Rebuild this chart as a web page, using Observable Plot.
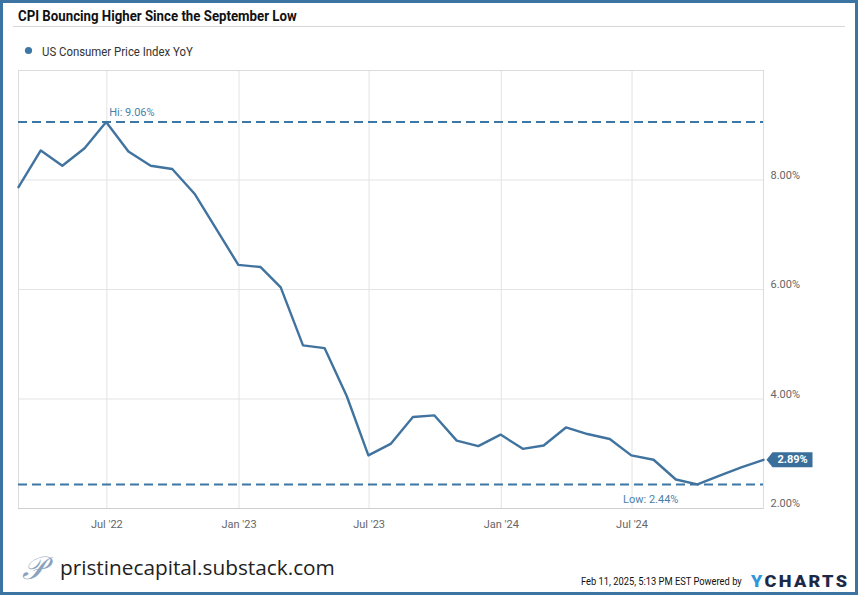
<!DOCTYPE html>
<html>
<head>
<meta charset="utf-8">
<script src="https://cdn.jsdelivr.net/npm/d3@7"></script>
<script src="https://cdn.jsdelivr.net/npm/@observablehq/plot@0.6"></script>
<style>
  html, body { margin: 0; padding: 0; background: #fff; }
  #frame { position: relative; width: 858px; height: 595px; box-sizing: border-box; border: 3px solid #3b74a2; background: #fff; overflow: hidden; font-family: Roboto, "Noto Sans", sans-serif; }
  #chart { position: absolute; left: 0px; top: 54px; width: 852px; }
  #chart svg { max-width: none; }
  #overlay { position: absolute; left: 0; top: 0; }
</style>
</head>
<body>
<div id="frame">
  <div id="chart"></div>
  <svg id="overlay" width="852" height="589" xmlns="http://www.w3.org/2000/svg">
    <text class="fit" data-x="15" data-y="18" data-w="279" font-family="Roboto, sans-serif" font-size="15" font-weight="700" fill="#111">CPI Bouncing Higher Since the September Low</text>
    <line x1="10" x2="842" y1="23.5" y2="23.5" stroke="#d6d6d6" stroke-width="1"/>
    <circle cx="25.5" cy="47.5" r="3.6" fill="#3d77a5"/>
    <text id="seriesName" class="fit" data-x="39" data-y="53" data-w="151" font-family="Roboto, sans-serif" font-size="12.5" fill="#333"></text>
    <text x="19" y="576" font-family="DejaVu Serif, serif" font-style="italic" font-size="32" fill="#8aa2bd">𝒫</text>
    <text class="fit" data-x="57" data-y="572" data-w="275" font-family="Open Sans, sans-serif" font-size="20" fill="#222">pristinecapital.substack.com</text>
    <text class="fit" data-x="578" data-y="582" data-w="161" font-family="Roboto, sans-serif" font-size="11" fill="#111">Feb 11, 2025, 5:13 PM EST Powered by</text>
    <text class="fit" data-x="748" data-y="584" data-w="98" font-family="Roboto, sans-serif" font-size="16" font-weight="900" letter-spacing="2"><tspan fill="#2f95dc">Y</tspan><tspan fill="#1b2a48">CHARTS</tspan></text>
  </svg>
</div>
<script>
const seriesName = "US Consumer Price Index YoY";

const dates = [
  "2022-02-28","2022-03-31","2022-04-30","2022-05-31","2022-06-30","2022-07-31","2022-08-31","2022-09-30","2022-10-31","2022-11-30","2022-12-31",
  "2023-01-31","2023-02-28","2023-03-31","2023-04-30","2023-05-31","2023-06-30","2023-07-31","2023-08-31","2023-09-30","2023-10-31","2023-11-30","2023-12-31",
  "2024-01-31","2024-02-29","2024-03-31","2024-04-30","2024-05-31","2024-06-30","2024-07-31","2024-08-31","2024-09-30","2024-10-31","2024-11-30","2024-12-31"
];
const values = [
  7.87, 8.54, 8.26, 8.58, 9.06, 8.52, 8.26, 8.20, 7.75, 7.11, 6.45,
  6.41, 6.04, 4.98, 4.93, 4.05, 2.97, 3.18, 3.67, 3.70, 3.24, 3.14, 3.35,
  3.09, 3.15, 3.48, 3.36, 3.27, 2.97, 2.89, 2.53, 2.44, 2.60, 2.75, 2.89
];
const xTicks = ["2022-07-01","2023-01-01","2023-07-01","2024-01-01","2024-07-01"];
const yTicks = [2, 4, 6, 8];
const yDomain = [2, 10];

document.getElementById("seriesName").textContent = seriesName;

// fit overlay texts to the widths seen in the reference (condensed look)
document.querySelectorAll("#overlay text.fit").forEach(el => {
  const w = +el.dataset.w, x = +el.dataset.x, y = +el.dataset.y;
  const len = el.getComputedTextLength() || w;
  el.setAttribute("transform", `translate(${x},${y}) scale(${w / len},1)`);
});

const data = dates.map((d, i) => ({date: new Date(d + "T00:00:00Z"), value: values[i]}));
const xTickDates = xTicks.map(d => new Date(d + "T00:00:00Z"));
const hi = data.reduce((a, b) => (b.value > a.value ? b : a));
const lo = data.reduce((a, b) => (b.value < a.value ? b : a));
const last = data[data.length - 1];

const blue = "#3d77a5";
const lineBlue = "#41739f";

const tagSymbol = {
  draw(ctx) {
    ctx.moveTo(3, 0);
    ctx.lineTo(9, -7.5);
    ctx.lineTo(49, -7.5);
    ctx.lineTo(49, 7.5);
    ctx.lineTo(9, 7.5);
    ctx.closePath();
  }
};

const fmtMonth = d3.utcFormat("%b '%y");

const chart = Plot.plot({
  width: 852,
  height: 480,
  marginLeft: 15,
  marginRight: 92,
  marginTop: 13,
  marginBottom: 29,
  style: {fontFamily: "Roboto, sans-serif", fontSize: "11px", background: "transparent", maxWidth: "none"},
  x: {type: "utc", domain: [data[0].date, last.date]},
  y: {domain: yDomain},
  marks: [
    Plot.gridY(yTicks.filter(t => t > yDomain[0]), {stroke: "#e3e3e3", strokeOpacity: 1}),
    Plot.gridX(xTickDates, {stroke: "#e3e3e3", strokeOpacity: 1}),
    Plot.frame({stroke: "#dcdcdc"}),
    Plot.ruleY([yDomain[0]], {stroke: "#cfcfcf"}),
    Plot.axisY(yTicks, {anchor: "right", tickSize: 0, tickPadding: 7, dy: -5, tickFormat: d => d.toFixed(2) + "%", fill: "#666", label: null}),
    Plot.axisX(xTickDates, {anchor: "bottom", tickSize: 0, tickPadding: 12, tickFormat: fmtMonth, fill: "#666", label: null}),
    Plot.ruleY([hi.value], {stroke: blue, strokeWidth: 2, strokeDasharray: "9,5"}),
    Plot.ruleY([lo.value], {stroke: blue, strokeWidth: 2, strokeDasharray: "9,5"}),
    Plot.line(data, {x: "date", y: "value", stroke: lineBlue, strokeWidth: 2.4, strokeLinejoin: "round"}),
    Plot.text([hi], {x: "date", y: "value", text: d => `Hi: ${d.value.toFixed(2)}%`, textAnchor: "start", dx: 3, dy: -9, fill: "#4a7fab", fontSize: 11}),
    Plot.text([lo], {x: "date", y: "value", text: d => `Low: ${d.value.toFixed(2)}%`, textAnchor: "end", dx: -19, dy: 15, fill: "#4a7fab", fontSize: 11}),
    Plot.dot([last], {x: "date", y: "value", symbol: tagSymbol, fill: "#3a6f9c", stroke: "none", r: 1}),
    Plot.text([last], {x: "date", y: "value", text: d => `${d.value.toFixed(2)}%`, dx: 29, fill: "#fff", fontWeight: 700, fontSize: 11})
  ]
});
document.getElementById("chart").appendChild(chart);
</script>
</body>
</html>
